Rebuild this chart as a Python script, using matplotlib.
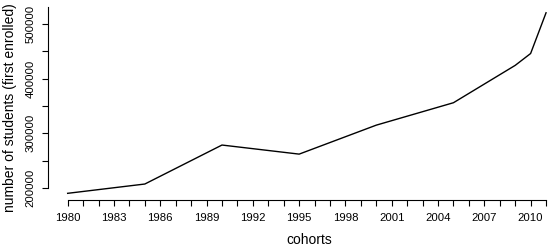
import matplotlib.pyplot as plt

plt.rcParams['font.family'] = ['Liberation Sans', 'DejaVu Sans']

# first-enrolled students per cohort
years = [1980, 1985, 1990, 1995, 2000, 2005, 2009, 2010, 2011]
students = [190300, 207300, 278600, 262000, 315000, 356000, 424300, 446000, 520500]

x_ticks = list(range(1980, 2012))
x_labels = [str(y) if (y - 1980) % 3 == 0 else '' for y in x_ticks]
y_ticks = list(range(200000, 500001, 50000))
y_labels = [str(v) if v % 100000 == 0 else '' for v in y_ticks]

W, H = 548, 247
fig = plt.figure(figsize=(W / 100, H / 100), dpi=100)
ax = fig.add_axes([63.8 / W, 1 - 196 / H, (547.9 - 63.8) / W, (196 - 6) / H])

ax.plot(years, students, color='black', linewidth=1.0)
ax.set_xlim(1979.75, 2011.12)
ax.set_ylim(185400, 532900)

for side in ['top', 'right']:
    ax.spines[side].set_visible(False)
ax.spines['left'].set_position(('outward', 11.6))
ax.spines['bottom'].set_position(('outward', 3.1))
ax.spines['left'].set_bounds(200000, 531000)
ax.spines['bottom'].set_bounds(1980, 2011)
for side in ['left', 'bottom']:
    ax.spines[side].set_linewidth(0.8)

ax.set_xticks(x_ticks)
ax.set_xticklabels(x_labels)
ax.set_yticks(y_ticks)
ax.set_yticklabels(y_labels, rotation=90, va='center')
ax.tick_params(axis='both', length=4, width=0.8, labelsize=8.2, pad=5)

fig.text(309.7 / W, 1 - 240 / H, 'cohorts', ha='center', va='center', fontsize=10)
fig.text(10 / W, 1 - 108 / H, 'number of students (first enrolled)',
         ha='center', va='center', rotation=90, fontsize=10)

fig.savefig('out.png', dpi=100)
